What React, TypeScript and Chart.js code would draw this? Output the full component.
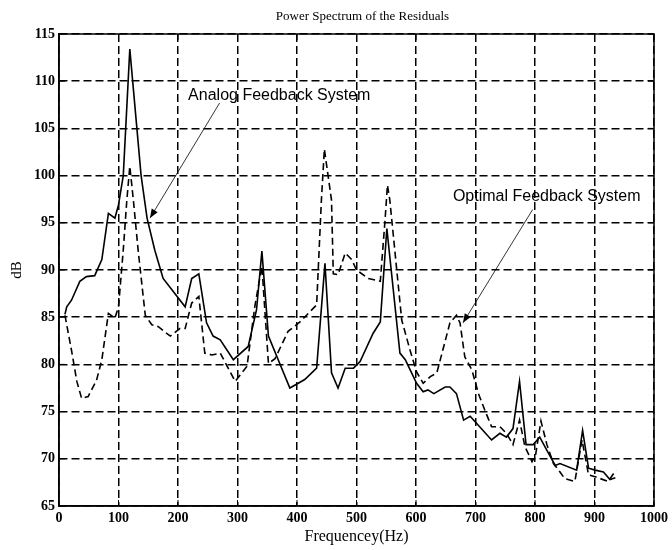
import { useEffect, useRef } from "react";
import { Chart, registerables } from "chart.js";

Chart.register(...registerables);

const analogFreq = [10, 13, 21, 35, 46, 60, 72, 83, 94, 100, 108, 119, 138, 148, 161, 175, 212, 223, 235, 248, 259, 271, 293, 318, 332, 341, 352, 388, 413, 433, 447, 458, 469, 481, 495, 506, 528, 540, 551, 573, 582, 601, 612, 620, 630, 649, 657, 668, 680, 691, 707, 727, 741, 752, 763, 774, 785, 797, 808, 820, 834, 842, 870, 880, 890, 901, 915, 926, 935];
const analogDb = [85.3, 86.1, 86.8, 88.8, 89.3, 89.4, 91.1, 96.0, 95.5, 96.9, 100.0, 113.4, 100.0, 95.5, 92.1, 89.1, 86.1, 89.1, 89.6, 84.4, 83.0, 82.6, 80.5, 81.9, 85.8, 92.0, 83.0, 77.5, 78.4, 79.6, 90.7, 79.1, 77.5, 79.6, 79.6, 80.3, 83.3, 84.5, 94.4, 81.2, 80.5, 78.0, 77.1, 77.3, 76.9, 77.6, 77.6, 76.9, 74.1, 74.5, 73.4, 72.0, 72.7, 72.3, 73.2, 78.2, 71.5, 71.5, 72.3, 70.9, 69.3, 69.5, 68.8, 73.0, 69.0, 68.8, 68.6, 67.8, 68.0];

const optimalFreq = [10, 21, 30, 38, 49, 63, 72, 83, 94, 100, 108, 114, 119, 125, 133, 145, 156, 167, 187, 203, 212, 223, 235, 245, 257, 271, 296, 316, 329, 341, 352, 363, 385, 405, 433, 441, 446, 458, 461, 469, 481, 492, 500, 520, 540, 548, 552, 556, 576, 590, 601, 612, 624, 635, 657, 668, 674, 682, 694, 705, 716, 727, 741, 752, 763, 774, 783, 795, 801, 810, 820, 831, 842, 850, 867, 879, 890, 901, 923, 936];
const optimalDb = [85.2, 81.5, 78.2, 76.4, 76.6, 78.3, 80.5, 85.4, 84.9, 86.1, 92.1, 97.4, 101.0, 97.4, 92.1, 85.2, 84.2, 84.0, 83.0, 83.8, 83.8, 86.5, 87.2, 81.2, 81.0, 81.2, 78.2, 79.8, 86.1, 90.4, 80.1, 80.6, 83.5, 84.5, 86.3, 97.4, 102.8, 97.4, 89.6, 89.5, 91.8, 91.1, 90.0, 89.1, 88.8, 95.3, 99.0, 97.4, 84.7, 81.5, 79.2, 78.0, 78.7, 79.1, 84.4, 85.2, 84.4, 80.8, 79.4, 76.9, 75.1, 73.4, 73.4, 72.7, 71.5, 74.1, 71.3, 69.7, 70.4, 74.0, 71.5, 69.5, 68.6, 67.9, 67.6, 72.0, 68.3, 68.1, 67.6, 68.8];

const xTicks = [0, 100, 200, 300, 400, 500, 600, 700, 800, 900, 1000];
const yTicks = [65, 70, 75, 80, 85, 90, 95, 100, 105, 110, 115];

const titleText = "Power Spectrum of the Residuals";
const xLabel = "Frequencey(Hz)";
const yLabel = "dB";

const notes = [
  { text: "Analog Feedback System", tx: 217, ty: 108.5, fromX: 270, fromY: 107.7, toX: 153, toY: 95.5 },
  { text: "Optimal Feedback System", tx: 662, ty: 97.8, fromX: 796, fromY: 96.4, toX: 679, toY: 84.4 },
];

const SERIF = '"Liberation Serif", "Times New Roman", serif';
const SANS = '"Liberation Sans", Arial, sans-serif';

const deco = {
  id: "deco",
  afterDatasetsDraw(chart: any) {
    const { ctx, chartArea: a, scales } = chart;
    const x = scales.x;
    const y = scales.y;
    ctx.save();
    ctx.setLineDash([]);
    ctx.strokeStyle = "#000";
    ctx.fillStyle = "#000";
    // inward ticks
    ctx.lineWidth = 1;
    ctx.beginPath();
    xTicks.forEach((v) => {
      const px = x.getPixelForValue(v);
      ctx.moveTo(px, a.bottom);
      ctx.lineTo(px, a.bottom - 6);
      ctx.moveTo(px, a.top);
      ctx.lineTo(px, a.top + 6);
    });
    yTicks.forEach((v) => {
      const py = y.getPixelForValue(v);
      ctx.moveTo(a.left, py);
      ctx.lineTo(a.left + 6, py);
      ctx.moveTo(a.right, py);
      ctx.lineTo(a.right - 6, py);
    });
    ctx.stroke();
    // box
    ctx.lineWidth = 1.5;
    ctx.strokeRect(a.left, a.top, a.right - a.left, a.bottom - a.top);
    // annotations
    notes.forEach((n) => {
      const x1 = x.getPixelForValue(n.fromX);
      const y1 = y.getPixelForValue(n.fromY);
      const x2 = x.getPixelForValue(n.toX);
      const y2 = y.getPixelForValue(n.toY);
      ctx.lineWidth = 0.8;
      ctx.beginPath();
      ctx.moveTo(x1, y1);
      ctx.lineTo(x2, y2);
      ctx.stroke();
      const ang = Math.atan2(y2 - y1, x2 - x1);
      const L = 9;
      const W = 3.5;
      ctx.beginPath();
      ctx.moveTo(x2, y2);
      ctx.lineTo(x2 - L * Math.cos(ang) + W * Math.sin(ang), y2 - L * Math.sin(ang) - W * Math.cos(ang));
      ctx.lineTo(x2 - L * Math.cos(ang) - W * Math.sin(ang), y2 - L * Math.sin(ang) + W * Math.cos(ang));
      ctx.closePath();
      ctx.fill();
      ctx.font = `16px ${SANS}`;
      ctx.textAlign = "left";
      ctx.textBaseline = "middle";
      ctx.fillText(n.text, x.getPixelForValue(n.tx), y.getPixelForValue(n.ty));
    });
    // title
    ctx.font = `13px ${SERIF}`;
    ctx.textAlign = "center";
    ctx.textBaseline = "middle";
    ctx.fillText(titleText, (a.left + a.right) / 2 + 6, 17);
    ctx.restore();
  },
};

export default function App() {
  const ref = useRef<HTMLCanvasElement | null>(null);
  useEffect(() => {
    if (!ref.current) return;
    const chart = new Chart(ref.current, {
      type: "line",
      data: {
        datasets: [
          {
            label: "Analog Feedback System",
            data: analogFreq.map((f, i) => ({ x: f, y: analogDb[i] })),
            borderColor: "#000",
            borderWidth: 1.6,
            pointRadius: 0,
            tension: 0,
            fill: false,
          },
          {
            label: "Optimal Feedback System",
            data: optimalFreq.map((f, i) => ({ x: f, y: optimalDb[i] })),
            borderColor: "#000",
            borderWidth: 1.6,
            borderDash: [7, 4],
            pointRadius: 0,
            tension: 0,
            fill: false,
          },
        ],
      },
      options: {
        responsive: false,
        animation: false,
        devicePixelRatio: 1,
        layout: { padding: { top: 34, right: 18, left: 0, bottom: 0 } },
        plugins: { legend: { display: false }, tooltip: { enabled: false }, title: { display: false } },
        scales: {
          x: {
            type: "linear",
            min: 0,
            max: 1000,
            afterFit: (s: any) => {
              s.height = 44;
            },
            afterBuildTicks: (s: any) => {
              s.ticks = xTicks.map((v) => ({ value: v }));
            },
            ticks: {
              color: "#000",
              padding: 4,
              maxRotation: 0,
              autoSkip: false,
              font: { family: SERIF, size: 14, weight: "bold" },
              callback: (v: any) => String(v),
            },
            grid: { color: "#000", lineWidth: 1.5, drawTicks: false },
            border: { display: true, color: "#000", width: 1.5, dash: [8, 4] },
            title: {
              display: true,
              text: xLabel,
              color: "#000",
              font: { family: SERIF, size: 16 },
              padding: { top: 0, bottom: 3.4 },
            },
          },
          y: {
            type: "linear",
            min: 65,
            max: 115,
            afterFit: (s: any) => {
              s.width = 59;
            },
            afterBuildTicks: (s: any) => {
              s.ticks = yTicks.map((v) => ({ value: v }));
            },
            ticks: {
              color: "#000",
              padding: 4,
              autoSkip: false,
              font: { family: SERIF, size: 14, weight: "bold" },
              callback: (v: any) => String(v),
            },
            grid: { color: "#000", lineWidth: 1.5, drawTicks: false },
            border: { display: true, color: "#000", width: 1.5, dash: [8, 4] },
            title: {
              display: true,
              text: yLabel,
              color: "#000",
              font: { family: SERIF, size: 15 },
              padding: { top: 8.5, bottom: 0 },
            },
          },
        },
      },
      plugins: [deco],
    });
    return () => chart.destroy();
  }, []);
  return (
    <div style={{ position: "fixed", left: 0, top: 0, width: 672, height: 550, background: "#fff" }}>
      <canvas ref={ref} width={672} height={550} style={{ display: "block" }} />
    </div>
  );
}
